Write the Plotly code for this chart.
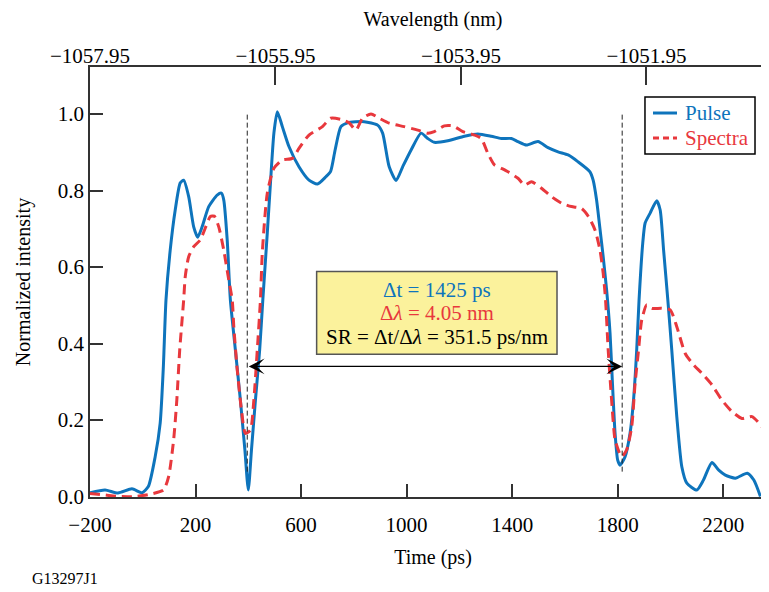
import plotly.graph_objects as go

# ---------------- data ----------------
pulse_t = [-200, -143, -94, -41, -3, 21, 47, 66, 78, 88, 104, 123, 142, 155, 174, 193, 208, 225,
           250, 282, 298, 307, 320, 332, 351, 370, 387, 400, 412, 427, 443, 455, 472, 484, 497,
           510, 529, 554, 592, 630, 662, 694, 712, 729, 751, 776, 839, 890, 909, 934, 960, 985,
           1017, 1055, 1080, 1105, 1156, 1219, 1270, 1321, 1359, 1397, 1422, 1454, 1498, 1536,
           1574, 1612, 1650, 1695, 1707, 1720, 1732, 1745, 1758, 1771, 1780, 1790, 1800, 1809,
           1828, 1847, 1860, 1872, 1881, 1895, 1904, 1923, 1948, 1961, 1974, 1990, 2005, 2024,
           2043, 2062, 2100, 2125, 2157, 2183, 2208, 2246, 2291, 2316, 2341]
pulse_y = [0.010, 0.017, 0.009, 0.020, 0.010, 0.026, 0.104, 0.192, 0.339, 0.514, 0.644, 0.749,
           0.820, 0.827, 0.784, 0.705, 0.678, 0.705, 0.758, 0.788, 0.793, 0.775, 0.671, 0.514,
           0.383, 0.252, 0.122, 0.017, 0.122, 0.252, 0.383, 0.514, 0.689, 0.820, 0.950, 1.006,
           0.967, 0.915, 0.862, 0.827, 0.817, 0.836, 0.850, 0.906, 0.967, 0.977, 0.980, 0.971,
           0.950, 0.862, 0.826, 0.862, 0.906, 0.950, 0.936, 0.926, 0.930, 0.942, 0.948, 0.942,
           0.936, 0.936, 0.928, 0.919, 0.928, 0.912, 0.901, 0.893, 0.875, 0.849, 0.827, 0.775,
           0.705, 0.627, 0.540, 0.427, 0.297, 0.166, 0.095, 0.082, 0.104, 0.166, 0.252, 0.383,
           0.514, 0.663, 0.715, 0.741, 0.773, 0.749, 0.644, 0.514, 0.383, 0.209, 0.078, 0.035,
           0.017, 0.043, 0.089, 0.069, 0.056, 0.048, 0.061, 0.043, 0.000]

spectra_t = [-200, -143, -94, -29, 35, 79, 98, 117, 129, 140, 155, 161, 174, 193, 218, 237, 256,
             271, 288, 307, 326, 339, 345, 357, 374, 389, 408, 421, 434, 446, 453, 472, 497, 529,
             567, 592, 630, 681, 712, 751, 782, 808, 833, 865, 896, 934, 991, 1042, 1080, 1105,
             1143, 1175, 1213, 1257, 1283, 1308, 1333, 1359, 1384, 1422, 1447, 1473, 1511, 1549,
             1587, 1625, 1663, 1689, 1714, 1733, 1745, 1754, 1764, 1777, 1790, 1805, 1815, 1834,
             1853, 1866, 1879, 1891, 1910, 1929, 1967, 1999, 2024, 2056, 2088, 2119, 2157, 2195,
             2233, 2271, 2309, 2347, 2382, 2400]
spectra_y = [0.008, 0.004, 0.000, 0.000, 0.007, 0.017, 0.052, 0.148, 0.252, 0.383, 0.514, 0.575,
             0.627, 0.653, 0.671, 0.702, 0.732, 0.733, 0.705, 0.644, 0.566, 0.514, 0.444, 0.339,
             0.226, 0.165, 0.174, 0.252, 0.383, 0.514, 0.637, 0.793, 0.858, 0.880, 0.884, 0.910,
             0.945, 0.967, 0.989, 0.986, 0.977, 0.958, 0.989, 1.000, 0.989, 0.976, 0.967, 0.958,
             0.950, 0.954, 0.969, 0.969, 0.954, 0.945, 0.936, 0.897, 0.867, 0.858, 0.849, 0.832,
             0.814, 0.823, 0.806, 0.784, 0.767, 0.758, 0.753, 0.732, 0.697, 0.644, 0.584, 0.514,
             0.383, 0.252, 0.148, 0.117, 0.104, 0.122, 0.182, 0.296, 0.383, 0.461, 0.501, 0.492,
             0.492, 0.488, 0.444, 0.374, 0.344, 0.322, 0.292, 0.252, 0.222, 0.204, 0.209, 0.182,
             0.139, 0.115]

series_names = ["Pulse", "Spectra"]
time_ticks = [-200, 200, 600, 1000, 1400, 1800, 2200]
y_ticks = [0.0, 0.2, 0.4, 0.6, 0.8, 1.0]
wl_ticks = [-1057.95, -1055.95, -1053.95, -1051.95]
wl_labels = ["\u22121057.95", "\u22121055.95", "\u22121053.95", "\u22121051.95"]

edge_left_t, edge_right_t = 396, 1817      # dashed marker times (ps)
arrow_level = 0.34
delta_t, delta_lambda, sr = 1425, 4.05, 351.5

x_range = [-200, 2400]
ps_per_nm = 351.5
wl_range = [wl_ticks[0], wl_ticks[0] + (x_range[1] - x_range[0]) / ps_per_nm]
y_range = [-0.0013, 1.1229]

# ---------------- style ----------------
BLUE = "#0E74BC"
RED = "#E8383D"
FONT = "Liberation Serif"
AX = "#333333"
RED_DASH = "10px,6px"

fig = go.Figure()
fig.add_trace(go.Scatter(x=pulse_t, y=pulse_y, mode="lines", name=series_names[0],
                         showlegend=False,
                         line=dict(color=BLUE, width=3, shape="spline", smoothing=0.6)))
fig.add_trace(go.Scatter(x=spectra_t, y=spectra_y, mode="lines", name=series_names[1],
                         showlegend=False,
                         line=dict(color=RED, width=3, dash=RED_DASH, shape="spline",
                                   smoothing=0.6)))
# helper trace so the top (wavelength) axis is drawn
fig.add_trace(go.Scatter(x=[None], y=[None], xaxis="x2", yaxis="y", showlegend=False,
                         hoverinfo="skip"))

# dashed vertical markers
for tt in (edge_left_t, edge_right_t):
    fig.add_shape(type="line", xref="x", yref="y", x0=tt, x1=tt, y0=0.065, y1=1.005,
                  line=dict(color="#222222", width=1, dash="5px,3px"))

# double-headed arrow
fig.add_annotation(x=edge_right_t, y=arrow_level, ax=edge_left_t, ay=arrow_level,
                   xref="x", yref="y", axref="x", ayref="y", text="", showarrow=True,
                   arrowhead=3, startarrowhead=3, arrowside="end+start",
                   arrowsize=2.2, startarrowsize=2.2, arrowwidth=1.2, arrowcolor="black",
                   standoff=0, startstandoff=0)

# info box
fig.add_shape(type="rect", xref="x", yref="y", x0=659, x1=1570, y0=0.372, y1=0.588,
              fillcolor="#FBF29C", line=dict(color="#555555", width=1.5), layer="above")
box_cx = 1114
lines = [
    (0.540, f"\u0394t = {delta_t} ps", BLUE),
    (0.480, f"\u0394<i>\u03bb</i> = {delta_lambda:.2f} nm", RED),
    (0.417, f"SR = \u0394t/\u0394<i>\u03bb</i> = {sr} ps/nm", "black"),
]
for yy, txt, col in lines:
    fig.add_annotation(x=box_cx, y=yy, xref="x", yref="y", text=txt, showarrow=False,
                       font=dict(family=FONT, size=21, color=col), xanchor="center",
                       yanchor="middle")

# legend (drawn manually to match the compact boxed legend)
fig.add_shape(type="rect", xref="paper", yref="paper", x0=0.809, x1=0.9694, y0=0.7977,
              y1=0.9302, fillcolor="white", line=dict(color="black", width=1.5), layer="above")
for yy, name, col, dash in [(0.893, series_names[0], BLUE, "solid"),
                            (0.835, series_names[1], RED, "6px,4px")]:
    fig.add_shape(type="line", xref="paper", yref="paper", x0=0.8207, x1=0.8557, y0=yy, y1=yy,
                  line=dict(color=col, width=3, dash=dash), layer="above")
    fig.add_annotation(x=0.8644, y=yy, xref="paper", yref="paper", text=name, showarrow=False,
                       font=dict(family=FONT, size=21, color=col), xanchor="left",
                       yanchor="middle")

# figure id
fig.add_annotation(x=-0.0875, y=-0.1884, xref="paper", yref="paper", text="G13297J1",
                   showarrow=False, font=dict(family=FONT, size=16, color="black"),
                   xanchor="left", yanchor="middle")

fig.update_layout(
    width=769, height=592,
    margin=dict(l=82, r=1, t=59, b=103),
    paper_bgcolor="white", plot_bgcolor="white",
    font=dict(family=FONT, size=21, color="black"),
    showlegend=False,
    xaxis=dict(range=x_range, tickvals=time_ticks, ticks="inside", ticklen=13, tickwidth=1.5,
               tickcolor=AX, showline=True, linecolor=AX, linewidth=1.5, showgrid=False,
               zeroline=False, tickfont=dict(family=FONT, size=21), ticklabelstandoff=8,
               automargin=False,
               title=dict(text="Time (ps)", font=dict(family=FONT, size=20), standoff=14)),
    xaxis2=dict(overlaying="x", side="top", anchor="y", range=wl_range, tickvals=wl_ticks,
                ticktext=wl_labels, ticks="inside", ticklen=18, tickwidth=1.5, tickcolor=AX,
                showline=True, linecolor=AX, linewidth=1.5, showgrid=False, zeroline=False,
                tickfont=dict(family=FONT, size=21), ticklabelstandoff=-6, automargin=False,
                title=dict(text="Wavelength (nm)", font=dict(family=FONT, size=20), standoff=13)),
    yaxis=dict(range=y_range, tickvals=y_ticks, tickformat=".1f", ticks="inside", ticklen=13,
               tickwidth=1.5, tickcolor=AX, showline=True, linecolor=AX, linewidth=1.5,
               mirror="ticks", showgrid=False, zeroline=False,
               tickfont=dict(family=FONT, size=21), automargin=False,
               title=dict(text="Normalized intensity", font=dict(family=FONT, size=20),
                          standoff=22)),
)

fig.write_html("out.html")
